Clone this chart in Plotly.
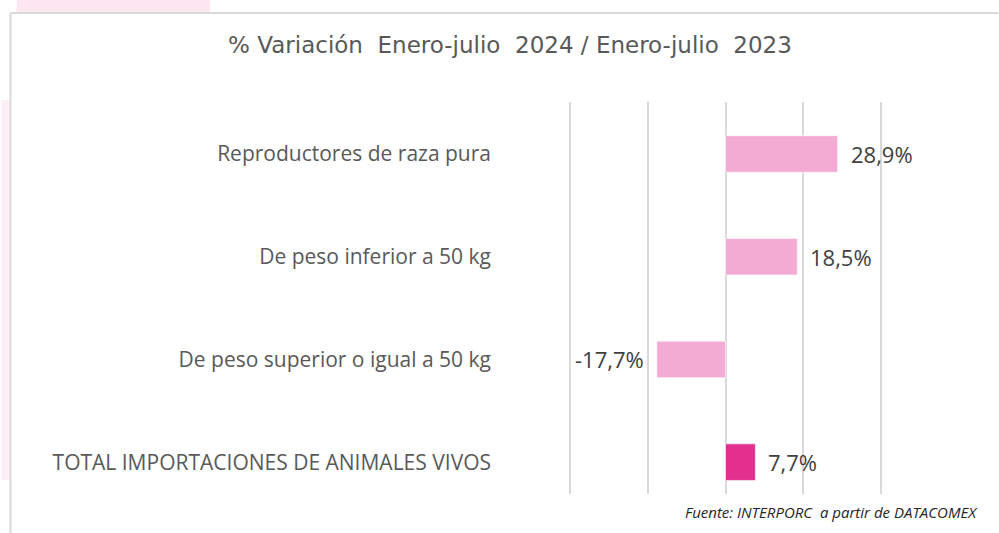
import plotly.graph_objects as go

# Import categories and year-on-year change (%)
categories = [
    "Reproductores de raza pura",
    "De peso inferior a 50 kg",
    "De peso superior o igual a 50 kg",
    "TOTAL IMPORTACIONES DE ANIMALES VIVOS",
]
variation = [28.9, 18.5, -17.7, 7.7]
bar_colors = ["#F3ABD4", "#F3ABD4", "#F3ABD4", "#E3308F"]
value_labels = ["28,9%", "18,5%", "-17,7%", "7,7%"]
x_ticks = [-40, -20, 0, 20, 40]

W, H = 999, 533
PPU = 311 / 80.0                 # pixels per percentage point
X0 = 725.5                       # pixel position of 0 %
XR = 40.6                        # half range, a bit beyond the outer gridlines
PL, PR = X0 - XR * PPU, X0 + XR * PPU
PT, PB = 102, 494                # plot area top / bottom in pixels


def px_x(px):
    return (px - PL) / (PR - PL)


def px_y(py):
    return (PB - py) / (PB - PT)


fig = go.Figure()
fig.add_trace(go.Bar(
    x=variation,
    y=categories,
    orientation="h",
    width=0.356,
    marker=dict(color=bar_colors, line=dict(color="rgba(255,255,255,0.6)", width=1)),
    hoverinfo="skip",
))

# Value labels just beyond the end of each bar
for cat, val, lab in zip(categories, variation, value_labels):
    fig.add_annotation(
        x=val, y=cat, xref="x", yref="y", text=lab, showarrow=False,
        xanchor="left" if val >= 0 else "right",
        xshift=11 if val >= 0 else -11,
        font=dict(family="Open Sans", size=22, color="#404040"),
    )

fig.add_annotation(
    x=px_x(981), y=px_y(512), xref="paper", yref="paper",
    text="<i>Fuente: INTERPORC  a partir de DATACOMEX</i>",
    showarrow=False, xanchor="right", yanchor="middle",
    font=dict(family="Open Sans", size=15, color="#262626"),
)

shapes = [
    # decorative pink backdrop pieces
    dict(type="rect", xref="paper", yref="paper", x0=px_x(15), x1=px_x(209),
         y0=px_y(0), y1=px_y(12), fillcolor="#FCE7F0", line=dict(width=0), layer="below"),
    dict(type="rect", xref="paper", yref="paper", x0=px_x(0), x1=px_x(8),
         y0=px_y(100), y1=px_y(480), fillcolor="#FDEDF4", line=dict(width=0), layer="below"),
    # chart frame
    dict(type="line", xref="paper", yref="paper", x0=px_x(9), x1=px_x(999),
         y0=px_y(13), y1=px_y(13), line=dict(color="#D9D9D9", width=2)),
    dict(type="line", xref="paper", yref="paper", x0=px_x(9), x1=px_x(9),
         y0=px_y(13), y1=px_y(533), line=dict(color="#D9D9D9", width=2)),
]

fig.update_layout(
    width=W, height=H,
    margin=dict(l=PL, r=W - PR, t=PT, b=H - PB),
    paper_bgcolor="white", plot_bgcolor="white",
    showlegend=False,
    shapes=shapes,
    title=dict(
        text="% Variación  Enero-julio  2024 / Enero-julio  2023",
        x=510 / W, xanchor="center", y=1 - 45 / H, yanchor="middle",
        xref="container", yref="container",
        font=dict(family="DejaVu Sans", size=23, color="#595959"),
    ),
    xaxis=dict(
        range=[-XR, XR], tickvals=x_ticks, showticklabels=False,
        showgrid=True, gridcolor="#D9D9D9", gridwidth=2,
        zeroline=False, showline=False, fixedrange=True,
    ),
    yaxis=dict(
        type="category", categoryorder="array", categoryarray=categories,
        range=[3.31, -0.506], showgrid=False, zeroline=False, showline=False,
        ticks="", ticklabelstandoff=int(round(PL - 492)),
        tickfont=dict(family="Open Sans", size=21, color="#595959"),
        fixedrange=True,
    ),
)

fig.write_html("out.html")
